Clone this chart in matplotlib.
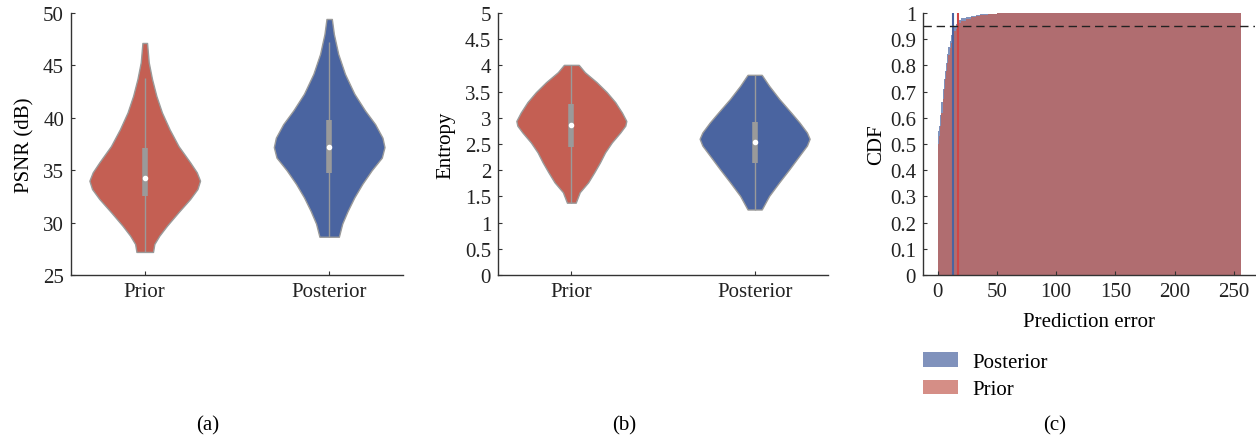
import numpy as np
import matplotlib
matplotlib.use("Agg")
import matplotlib.pyplot as plt
from matplotlib.patches import Patch

plt.rcParams["font.family"] = ["Liberation Serif", "DejaVu Serif"]
plt.rcParams["font.size"] = 15

groups = ["Prior", "Posterior"]
red = "#c45f53"
blue = "#4a64a0"
edge_gray = "#9a9a9a"

# PSNR violins: (level, relative density)
psnr_prior_y = [27.2, 27.96, 28.75, 29.7, 31.0, 32.25, 33.2, 34.0, 34.8, 35.75,
                37.3, 38.9, 40.5, 42.1, 43.7, 45.3, 47.14]
psnr_prior_d = [25, 29, 44, 67, 102, 137, 159, 167, 157, 137,
                102, 75, 52, 35, 22, 12, 7]
psnr_post_y = [28.65, 29.9, 31.1, 32.4, 33.7, 35.0, 36.2, 37.2, 38.1, 39.4,
               40.7, 42.3, 44.2, 46.1, 48.0, 49.43]
psnr_post_d = [29, 39, 55, 75, 99, 127, 157, 165, 159, 137,
               107, 75, 47, 27, 14, 8]
psnr_q1 = [32.5, 34.7]
psnr_med = [34.3, 37.25]
psnr_q3 = [37.1, 39.8]
psnr_lo = [27.2, 28.65]
psnr_hi = [43.8, 47.2]

# Entropy violins
ent_prior_y = [1.38, 1.58, 1.77, 1.96, 2.15, 2.34, 2.53, 2.72, 2.85, 2.94,
               3.10, 3.30, 3.49, 3.68, 3.87, 4.01]
ent_prior_d = [13, 25, 50, 68, 85, 100, 120, 145, 160, 163,
               150, 130, 105, 75, 40, 22]
ent_post_y = [1.25, 1.51, 1.77, 2.02, 2.28, 2.47, 2.60, 2.72, 2.91, 3.10,
              3.36, 3.61, 3.82]
ent_post_d = [21, 43, 73, 103, 133, 155, 163, 155, 133, 108,
              73, 43, 21]
ent_q1 = [2.45, 2.13]
ent_med = [2.86, 2.54]
ent_q3 = [3.27, 2.92]
ent_lo = [1.38, 1.25]
ent_hi = [4.01, 3.82]

# CDF of prediction error (value on each bin)
err_edges = [0, 1, 2, 3, 4, 5, 6, 7, 8, 9, 10, 11, 12, 13, 14, 15, 16,
             18, 20, 24, 28, 32, 36, 42, 50, 256]
cdf_post = [0.55, 0.57, 0.61, 0.66, 0.71, 0.75, 0.78, 0.81, 0.845, 0.87,
            0.895, 0.915, 0.93, 0.945, 0.952, 0.958, 0.965, 0.972, 0.98,
            0.986, 0.99, 0.993, 0.996, 0.998, 1.0]
cdf_prior = [0.50, 0.53, 0.57, 0.62, 0.67, 0.71, 0.75, 0.78, 0.81, 0.84,
             0.865, 0.885, 0.90, 0.915, 0.93, 0.94, 0.95, 0.96, 0.97,
             0.978, 0.984, 0.988, 0.992, 0.996, 1.0]
p95_post = 13
p95_prior = 17


def style(ax):
    for s in ["top", "right"]:
        ax.spines[s].set_visible(False)
    for s in ["left", "bottom"]:
        ax.spines[s].set_color("#333333")
        ax.spines[s].set_linewidth(1.0)
    ax.tick_params(direction="in", length=3, width=0.8, pad=5,
                   colors="#333333", labelcolor="#222222")


def violins(ax, profiles, q1, med, q3, lo, hi):
    stats = []
    for (ys, ds), m in zip(profiles, med):
        stats.append(dict(coords=np.array(ys), vals=np.array(ds, float),
                          mean=m, median=m, min=ys[0], max=ys[-1]))
    parts = ax.violin(stats, positions=[0, 1], widths=0.6,
                      showmeans=False, showextrema=False)
    for body, c in zip(parts["bodies"], [red, blue]):
        body.set_facecolor(c)
        body.set_edgecolor(edge_gray)
        body.set_linewidth(1.0)
        body.set_alpha(1)
        body.set_joinstyle("round")
    pos = np.arange(2)
    ax.vlines(pos, lo, hi, color=edge_gray, lw=1.0, zorder=3)
    ax.vlines(pos, q1, q3, color=edge_gray, lw=4, zorder=3)
    ax.scatter(pos, med, s=9, color="white", zorder=4)
    ax.set_xticks(pos)
    ax.set_xticklabels(groups)
    ax.set_xlim(-0.4, 1.4)


fig = plt.figure(figsize=(12.56, 4.39), dpi=100)
ax1 = fig.add_axes([0.0565, 0.3713, 0.2643, 0.5968])
ax2 = fig.add_axes([0.3965, 0.3713, 0.2627, 0.5968])
ax3 = fig.add_axes([0.7349, 0.3713, 0.2643, 0.5968])

violins(ax1, [(psnr_prior_y, psnr_prior_d), (psnr_post_y, psnr_post_d)],
        psnr_q1, psnr_med, psnr_q3, psnr_lo, psnr_hi)
ax1.set_ylim(25, 50)
ax1.set_yticks(np.arange(25, 51, 5))
ax1.set_ylabel("PSNR (dB)", labelpad=6)
style(ax1)

violins(ax2, [(ent_prior_y, ent_prior_d), (ent_post_y, ent_post_d)],
        ent_q1, ent_med, ent_q3, ent_lo, ent_hi)
ax2.set_ylim(0, 5)
ax2.set_yticks(np.arange(0, 5.01, 0.5))
ax2.set_yticklabels(["0", "0.5", "1", "1.5", "2", "2.5", "3", "3.5", "4", "4.5", "5"])
ax2.set_ylabel("Entropy", labelpad=7)
style(ax2)

ax3.stairs(cdf_post, err_edges, fill=True, color=blue, alpha=0.7, lw=0)
ax3.stairs(cdf_prior, err_edges, fill=True, color=red, alpha=0.72, lw=0)
ax3.axvline(p95_post, color=blue, lw=1.5)
ax3.axvline(p95_prior, color="#d04545", lw=1.5)
ax3.axhline(0.95, color="#222222", lw=1.0, ls=(0, (6, 3.5)))
ax3.set_xlim(-12.5, 268)
ax3.set_ylim(0, 1)
ax3.set_xticks(np.arange(0, 251, 50))
ax3.set_yticks(np.arange(0, 1.01, 0.1))
ax3.set_yticklabels(["0", "0.1", "0.2", "0.3", "0.4", "0.5", "0.6", "0.7", "0.8", "0.9", "1"])
ax3.set_xlabel("Prediction error", labelpad=8)
ax3.set_ylabel("CDF", labelpad=3)
style(ax3)

handles = [Patch(facecolor=blue, alpha=0.7, lw=0), Patch(facecolor=red, alpha=0.7, lw=0)]
fig.legend(handles, ["Posterior", "Prior"], loc="upper left",
           bbox_to_anchor=(0.7349, 0.196), frameon=False, borderpad=0,
           borderaxespad=0, handlelength=1.7, handletextpad=0.65,
           labelspacing=0.4)

for x, t in [(0.165, "(a)"), (0.497, "(b)"), (0.84, "(c)")]:
    fig.text(x, 0.03, t, ha="center", va="center")

fig.savefig("out.png", dpi=100)
